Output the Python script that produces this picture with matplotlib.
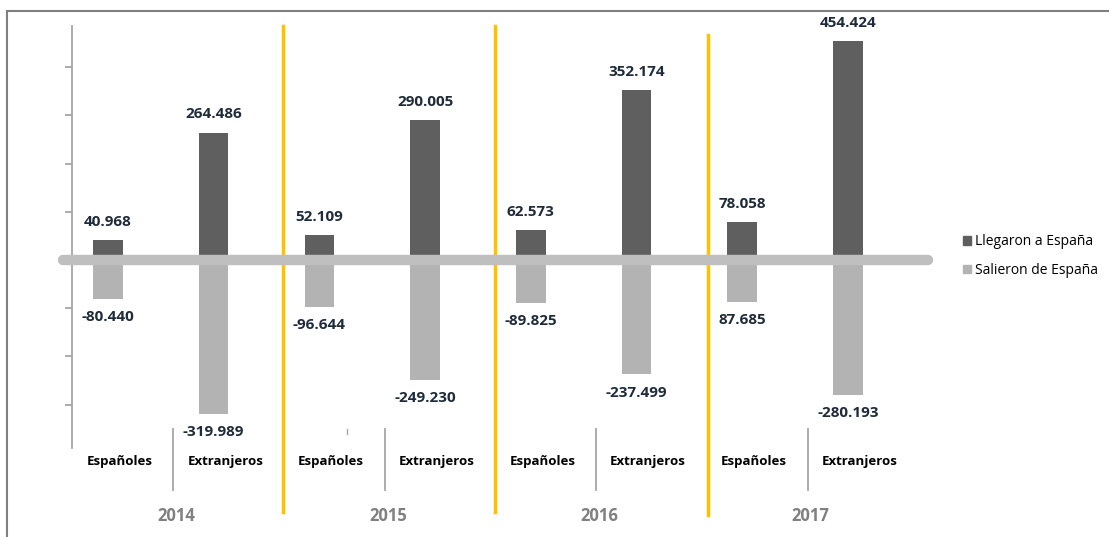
import matplotlib.pyplot as plt
import numpy as np
from matplotlib.patches import Rectangle, Patch

plt.rcParams['font.family'] = ['Open Sans', 'DejaVu Sans']

# data (valores en personas)
years = ['2014', '2015', '2016', '2017']
groups = ['Españoles', 'Extranjeros'] * 4
llegaron = [40968, 264486, 52109, 290005, 62573, 352174, 78058, 454424]
salieron = [-80440, -319989, -96644, -249230, -89825, -237499, -87685, -280193]
llegaron_lbl = ['40.968', '264.486', '52.109', '290.005', '62.573', '352.174', '78.058', '454.424']
salieron_lbl = ['-80.440', '-319.989', '-96.644', '-249.230', '-89.825', '-237.499', '87.685', '-280.193']

dark = '#5f5f5f'
light = '#b3b3b3'
gold = '#ffc000'
txt = '#1f2b3a'

fig = plt.figure(figsize=(11.09, 5.37), dpi=100)
ax = fig.add_axes([72/1109, 89/537, 845.6/1109, 422/537])

x = np.arange(len(groups)) + 0.34
ax.bar(x, llegaron, width=0.28, color=dark, zorder=2)
ax.bar(x, salieron, width=0.28, color=light, zorder=2)

ax.set_xlim(0, 8)
ax.set_ylim(-390000, 485500)

for xi, v, s in zip(x, llegaron, llegaron_lbl):
    ax.annotate(s, (xi, v), xytext=(0, 13), textcoords='offset points',
                ha='center', va='center', fontsize=11, fontweight='bold', color=txt)
for xi, v, s in zip(x, salieron, salieron_lbl):
    ax.annotate(s, (xi, v), xytext=(0, -13), textcoords='offset points',
                ha='center', va='center', fontsize=11, fontweight='bold', color=txt)

# thick zero line
ax.plot([-0.085, 8.1], [0, 0], color='#bfbfbf', lw=7.5, solid_capstyle='round',
        clip_on=False, zorder=3)

# spines / ticks
for s in ['top', 'right', 'bottom']:
    ax.spines[s].set_visible(False)
ax.spines['left'].set_color('#a6a6a6')
ax.spines['left'].set_linewidth(1.3)
ax.set_yticks(np.arange(-300000, 400001, 100000))
ax.set_yticklabels([])
ax.tick_params(axis='y', length=5, color='#a6a6a6', width=1.3)
ax.set_xticks([])

tr = ax.get_xaxis_transform()
for i, g in enumerate(groups):
    ax.text(i + 0.45, -0.031, g, transform=tr, ha='center', va='center',
            fontsize=9.5, fontweight='bold', color='black')
for k, yr in enumerate(years):
    ax.text(2 * k + 0.99, -0.16, yr, transform=tr, ha='center', va='center',
            fontsize=12, fontweight='bold', color='#808080')
    ax.plot([2 * k + 0.96] * 2, [0.045, -0.1], transform=tr, color='#a6a6a6',
            lw=1.3, clip_on=False)
ax.plot([2.6, 2.6], [0.045, 0.033], transform=tr, color='#a6a6a6', lw=1, clip_on=False)

# year separators
for xs, top, bot in [(2.0, 1.0, -0.152), (4.0, 1.0, -0.152), (6.02, 0.979, -0.159)]:
    ax.plot([xs, xs], [bot, top], transform=tr, color=gold, lw=2.5,
            clip_on=False, zorder=1)

# legend
handles = [Patch(color=dark, label='Llegaron a España'),
           Patch(color=light, label='Salieron de España')]
fig.legend(handles=handles, loc='center left', bbox_to_anchor=(950/1109, 281/537),
           frameon=False, fontsize=10, handlelength=0.6, handleheight=0.6,
           handletextpad=0.3, labelspacing=1.0)

# outer frame
fig.patches.append(Rectangle((7/1109, -0.05), 1.1, (537 - 11)/537 + 0.05,
                             transform=fig.transFigure, fill=False,
                             edgecolor='#7f7f7f', lw=1.5))

fig.savefig('out.png', dpi=100)
